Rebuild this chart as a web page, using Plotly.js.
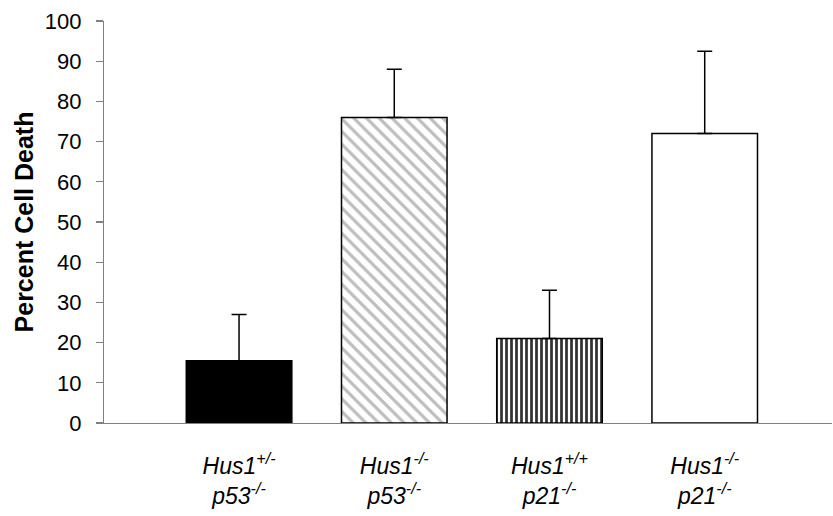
<!DOCTYPE html>
<html>
<head>
<meta charset="utf-8">
<script src="https://cdn.plot.ly/plotly-3.0.1.min.js"></script>
<style>html,body{margin:0;padding:0;background:#fff;}#chart{width:833px;height:516px;}</style>
</head>
<body>
<div id="chart"></div>
<script>
const categories = ["Hus1+/- p53-/-", "Hus1-/- p53-/-", "Hus1+/+ p21-/-", "Hus1-/- p21-/-"];
const tickLabels = [
  "<i>Hus1<sup>+/-</sup></i><br><i>p53<sup>-/-</sup></i>",
  "<i>Hus1<sup>-/-</sup></i><br><i>p53<sup>-/-</sup></i>",
  "<i>Hus1<sup>+/+</sup></i><br><i>p21<sup>-/-</sup></i>",
  "<i>Hus1<sup>-/-</sup></i><br><i>p21<sup>-/-</sup></i>"
];
const percentDeath = [15.5, 76, 21, 72];
const errorUp = [11.5, 12, 12, 20.5];

const xIdx = categories.map((c, i) => i);
const traces = [
  {x: [0], y: [percentDeath[0]], err: [errorUp[0]], marker: {color: "#000000", line: {color: "#000", width: 1.5}}},
  {x: [1], y: [percentDeath[1]], err: [errorUp[1]], marker: {color: "#ffffff", line: {color: "#000", width: 1.5},
      pattern: {shape: "\\", fgcolor: "#bdbdbd", bgcolor: "#ffffff", size: 9, solidity: 0.35, fillmode: "replace"}}},
  {x: [2], y: [percentDeath[2]], err: [errorUp[2]], marker: {color: "#ffffff", line: {color: "#000", width: 1.5},
      pattern: {shape: "|", fgcolor: "#333333", bgcolor: "#ffffff", size: 5, solidity: 0.55, fillmode: "replace"}}},
  {x: [3], y: [percentDeath[3]], err: [errorUp[3]], marker: {color: "#ffffff", line: {color: "#000", width: 1.5}}}
].map(t => ({
  type: "bar",
  x: t.x,
  y: t.y,
  marker: t.marker,
  width: 0.68,
  error_y: {type: "data", array: t.err, arrayminus: [0], symmetric: false, color: "#000", thickness: 1.5, width: 7.5},
  hoverinfo: "none",
  showlegend: false
}));

const layout = {
  width: 833, height: 516,
  margin: {l: 104, r: 1, t: 21, b: 93},
  paper_bgcolor: "#fff", plot_bgcolor: "#fff",
  barmode: "overlay",
  font: {family: "Liberation Sans, Arial, sans-serif", color: "#000"},
  xaxis: {
    range: [-0.87, 3.82],
    tickvals: xIdx, ticktext: tickLabels,
    showgrid: false, zeroline: false,
    showline: true, linecolor: "#808080", linewidth: 1.2,
    ticks: "", tickfont: {size: 23, family: "Liberation Sans, Arial, sans-serif"},
    ticklabelstandoff: 22,
    fixedrange: true
  },
  yaxis: {
    range: [0, 100], dtick: 10,
    showgrid: false, zeroline: false,
    showline: true, linecolor: "#808080", linewidth: 1.2,
    ticks: "outside", ticklen: 7, tickcolor: "#808080", tickwidth: 1.2,
    tickfont: {size: 22}, ticklabelstandoff: 10,
    title: {text: "<b>Percent Cell Death</b>", font: {size: 25}, standoff: 4},
    fixedrange: true
  }
};

Plotly.newPlot("chart", traces, layout, {staticPlot: true});
</script>
</body>
</html>
